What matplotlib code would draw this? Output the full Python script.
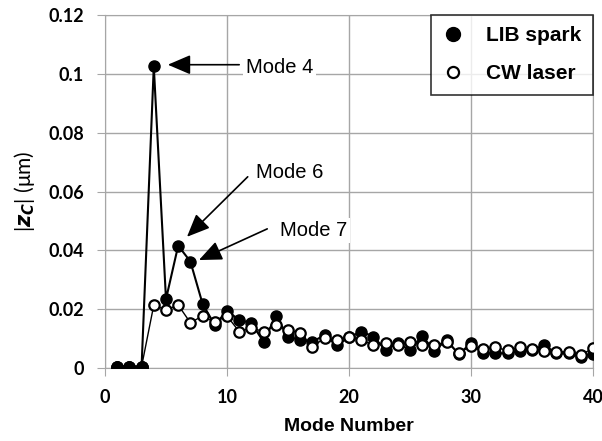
import matplotlib
matplotlib.use("Agg")
import matplotlib.pyplot as plt
from matplotlib.ticker import FuncFormatter

# mode numbers 1..40
modes = list(range(1, 41))

lib_spark = [0.0005, 0.0005, 0.0005, 0.1025, 0.0234, 0.0416, 0.0362, 0.0218, 0.0146, 0.0195,
             0.0163, 0.0153, 0.0089, 0.0177, 0.0107, 0.0095, 0.0089, 0.0112, 0.0078, 0.0104,
             0.0124, 0.0107, 0.0061, 0.0084, 0.0061, 0.0109, 0.0059, 0.0095, 0.0047, 0.0084,
             0.0050, 0.0050, 0.0050, 0.0059, 0.0061, 0.0078, 0.0050, 0.0050, 0.0039, 0.0048]

cw_laser = [0.0005, 0.0005, 0.0005, 0.0214, 0.0197, 0.0214, 0.0154, 0.0177, 0.0155, 0.0177,
            0.0124, 0.0136, 0.0124, 0.0146, 0.0129, 0.0119, 0.0072, 0.0102, 0.0095, 0.0105,
            0.0095, 0.0078, 0.0084, 0.0078, 0.0089, 0.0078, 0.0078, 0.0089, 0.0050, 0.0075,
            0.0064, 0.0070, 0.0060, 0.0070, 0.0064, 0.0059, 0.0055, 0.0055, 0.0045, 0.0067]

# label, text position, arrow tail, arrow tip
notes = [("Mode 4", (11.55, 0.1020), (11.0, 0.1031), (5.15, 0.1031)),
         ("Mode 6", (12.35, 0.0663), (11.7, 0.0650), (6.72, 0.0446)),
         ("Mode 7", (14.35, 0.0469), (13.3, 0.0473), (7.70, 0.0367))]

fig = plt.figure(figsize=(6.02, 4.41), dpi=100)
ax = fig.add_axes([0.1744, 0.1655, 0.8106, 0.8005])

grid_c = "#a6a6a6"
ax.plot(modes, lib_spark, color="black", lw=1.5, marker="o", ms=8,
        mfc="black", mec="black", label="LIB spark", zorder=3)
ax.plot(modes, cw_laser, color="black", lw=1.0, marker="o", ms=7.5,
        mfc="white", mec="black", mew=1.6, label="CW laser", zorder=4)
# first three filled points sit on top of the open ones
ax.plot(modes[:3], lib_spark[:3], "o", color="black", ms=8, zorder=5)

for label, txt, tail, tip in notes:
    ax.text(txt[0], txt[1], label, fontsize=14.5, family="Liberation Sans",
            ha="left", va="center", zorder=5,
            bbox=dict(boxstyle="square,pad=0.15", fc="white", ec="none"))
    ax.annotate("", xy=tip, xytext=tail,
                arrowprops=dict(arrowstyle="-|>,head_length=1.4,head_width=0.6",
                                color="black", lw=1.2, shrinkA=0, shrinkB=0),
                zorder=6)

ax.set_xlim(0, 40)
ax.set_ylim(0, 0.12)
ax.set_xticks([0, 10, 20, 30, 40])
ax.set_yticks([0, 0.02, 0.04, 0.06, 0.08, 0.1, 0.12])
ax.yaxis.set_major_formatter(FuncFormatter(lambda v, p: ("%.2f" % v).rstrip("0").rstrip(".")))
ax.grid(True, color=grid_c, lw=1.0)
ax.set_axisbelow(True)
for s in ax.spines.values():
    s.set_color(grid_c)
ax.tick_params(direction="out", length=6, color=grid_c, labelsize=13)
ax.tick_params(axis="x", pad=9)
ax.tick_params(axis="y", pad=9)
for t in ax.get_xticklabels() + ax.get_yticklabels():
    t.set_family("Lato")
    t.set_fontweight("bold")

ax.set_xlabel("Mode Number", fontsize=14, fontweight="bold", family="Liberation Sans",
              labelpad=9)
plt.rcParams["mathtext.fontset"] = "custom"
plt.rcParams["mathtext.bfit"] = "Liberation Sans:bold:italic"
ax.set_ylabel(r"|$\mathbfit{z_C}$| (μm)", fontsize=15, family="Lato", labelpad=8)

leg = ax.legend(loc="upper right", bbox_to_anchor=(1.0, 1.0), borderaxespad=0,
                frameon=True, fancybox=False, edgecolor="black", handlelength=1.0,
                handletextpad=1.1, borderpad=0.55, labelspacing=0.9,
                prop={"family": "Liberation Sans", "weight": "bold", "size": 15})
leg.get_frame().set_linewidth(1.2)
hl = leg.get_lines()
for h in hl:
    h.set_linestyle("none")
hl[0].set_markersize(10)
hl[1].set_markersize(8)

fig.savefig("out.png", dpi=100)
